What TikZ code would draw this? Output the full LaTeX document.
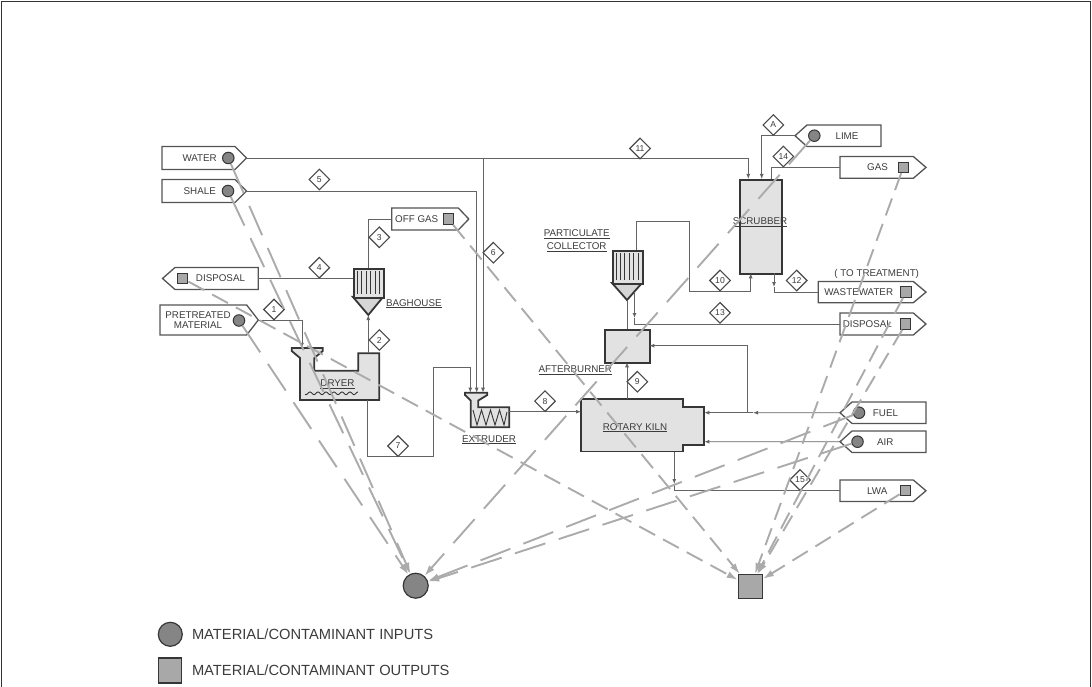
\documentclass[tikz,border=0pt]{standalone}
\usepackage{fontspec}
\setmainfont{Liberation Sans}
\usetikzlibrary{arrows.meta,calc,shapes.geometric}

\definecolor{lineC}{HTML}{646464}
\definecolor{edgeC}{HTML}{363636}
\definecolor{fillC}{HTML}{E2E2E2}
\definecolor{coneC}{HTML}{D6D6D6}
\definecolor{dashC}{HTML}{ABABAB}
\definecolor{txtC}{HTML}{3C3C3C}
\definecolor{inC}{HTML}{858585}
\definecolor{outC}{HTML}{A8A8A8}

\newcommand{\mytagR}[6]{%
  \draw[tagline] (#2,#4) -- (#3,#4) -- ({#3+#6},{(#4+#5)/2}) -- (#3,#5) -- (#2,#5) -- cycle;
  \coordinate (#1-tip) at ({#3+#6},{(#4+#5)/2});
  \coordinate (#1-in) at (#2,{(#4+#5)/2});}
\newcommand{\mytagL}[6]{%
  \draw[tagline] ({#2-#6},{(#4+#5)/2}) -- (#2,#4) -- (#3,#4) -- (#3,#5) -- (#2,#5) -- cycle;
  \coordinate (#1-tip) at ({#2-#6},{(#4+#5)/2});
  \coordinate (#1-in) at (#3,{(#4+#5)/2});}

\begin{document}
\begin{tikzpicture}[x=1pt,y=-1pt,
  pline/.style={draw=lineC, line width=0.9pt},
  parr/.style={-{Latex[length=5pt,width=4pt]}},
  equip/.style={draw=edgeC, line width=1.8pt, fill=fillC, line join=miter},
  tagline/.style={draw=edgeC!85, line width=1.3pt, fill=white, line join=miter},
  tlbl/.style={font=\fontsize{9.8}{10.5}\selectfont, text=txtC, inner sep=0pt},
  ulbl/.style={font=\fontsize{9.8}{10.5}\selectfont, text=txtC, inner sep=0pt, anchor=base},
  numd/.style={diamond, draw=edgeC!90, line width=1.1pt, fill=white, minimum width=21, minimum height=21, inner sep=0pt, font=\fontsize{8.6}{8.6}\selectfont, text=txtC},
  inmark/.style={circle, draw=edgeC, fill=inC, line width=1pt, minimum size=11.5, inner sep=0pt},
  outmark/.style={draw=edgeC, fill=outC, line width=1pt, minimum size=10.5, inner sep=0pt},
  indash/.style={draw=dashC, line width=1.9pt, dash pattern=on 32pt off 14pt, -{Latex[length=11pt,width=7pt]}},
  outdash/.style={draw=dashC, line width=1.9pt, dash pattern=on 18pt off 9pt, -{Latex[length=11pt,width=7pt]}}
]
\useasboundingbox (0,0) rectangle (1092,687);
\draw[black!80, line width=0.8pt] (1.2,687) -- (1.2,1.2) -- (1090.8,1.2) -- (1090.8,687);

% ---------- tags ----------
\mytagR{water}{162}{235}{146.5}{169.5}{11.5}
\mytagR{shale}{162}{235}{179.5}{202.5}{11.5}
\mytagR{pre}{160}{246.7}{305}{335}{11.6}
\mytagL{dispL}{175}{258.3}{267.5}{289.5}{12.5}
\mytagR{offgas}{391.7}{458.3}{208}{230}{10.5}
\mytagL{lime}{807}{881}{125}{146.5}{12}
\mytagR{gas}{840}{913.3}{156.5}{178.3}{12.7}
\mytagR{waste}{818.3}{913.3}{281.5}{302.7}{12.7}
\mytagR{dispR}{840}{913.3}{313}{335}{12.7}
\mytagL{fuel}{852}{926}{402}{423.5}{12}
\mytagL{air}{852}{926}{431}{452.5}{12}
\mytagR{lwa}{840}{913.3}{480}{501.5}{12.7}

% tag texts
\node[tlbl, anchor=east] (tWater) at (217,158) {WATER};
\node[tlbl, anchor=east] (tShale) at (216,191) {SHALE};
\node[tlbl, align=center, font=\fontsize{9.8}{10}\selectfont] (tPre) at (198,320) {PRETREATED\\MATERIAL};
\node[tlbl] (tDispL) at (220.5,278.5) {DISPOSAL};
\node[tlbl] (tOffgas) at (416.7,219) {OFF GAS};
\node[tlbl] (tLime) at (847,135.7) {LIME};
\node[tlbl] (tGas) at (877.5,167.4) {GAS};
\node[tlbl] (tTreat) at (876.7,274.3) {( TO TREATMENT)};
\node[tlbl] (tWaste) at (858.7,292.1) {WASTEWATER};
\node[tlbl] (tDispR) at (867.3,324) {DISPOSAL};
\node[tlbl] (tFuel) at (885.5,412.7) {FUEL};
\node[tlbl] (tAir) at (885.3,441.7) {AIR};
\node[tlbl] (tLwa) at (877.2,490.7) {LWA};

% ---------- equipment ----------
% baghouse
\draw[equip, fill=coneC] (352.7,296.7) -- (368.3,315) -- (383.3,296.7) -- cycle;
\node[equip, minimum width=30.6, minimum height=28.4, anchor=north west] (bag) at (352.7,268.3) {};
\foreach \i in {0,...,5} \draw[edgeC, line width=0.8pt] ({357.3+4.4*\i},271) -- ({357.3+4.4*\i},294);
% particulate collector
\draw[equip, fill=coneC] (612,283) -- (627,300) -- (642,283) -- cycle;
\node[equip, minimum width=30, minimum height=33, anchor=north west] (coll) at (612,250) {};
\foreach \i in {0,...,5} \draw[edgeC, line width=0.8pt] ({616+4.4*\i},253) -- ({616+4.4*\i},280);
% scrubber
\node[equip, minimum width=41.4, minimum height=94.3, anchor=north west] (scrub) at (739.3,179) {};
% afterburner
\node[equip, minimum width=45, minimum height=33, anchor=north west] (after) at (604.3,329.3) {};
% rotary kiln
\draw[equip] (581,399.3) -- (683.3,399.3) -- (683.3,407) -- (704.3,407) -- (704.3,445) -- (683.3,445) -- (683.3,451.5) -- (581,451.5) -- cycle;
% dryer
\draw[equip] (291.7,348) -- (322.7,348) -- (322.7,351) -- (314.3,358) -- (314.3,370.7) -- (358.3,370.7) -- (358.3,353.3) -- (379.3,353.3) -- (379.3,400) -- (300,400) -- (300,358) -- (291.7,351) -- cycle;
\draw[edgeC, line width=0.9pt] plot[domain=305:358, samples=120] (\x,{393.3+1.3*sin(\x*45)});
% extruder
\draw[equip] (465,392.7) -- (487.3,392.7) -- (487.3,395) -- (478.3,400.5) -- (478.3,407.3) -- (509.3,407.3) -- (509.3,427.3) -- (470.7,427.3) -- (470.7,400.5) -- (465,395) -- cycle;
\draw[edgeC, line width=0.9pt] (473,410) -- (477,425) -- (481.5,410) -- (486,425) -- (490.5,410) -- (495,425) -- (499.5,410) -- (504,425) -- (507,412);

% equipment labels
\node[ulbl] (lBag) at (413.8,306.2) {\underline{BAGHOUSE}};
\node[ulbl] (lDry) at (337.5,386.5) {\underline{DRYER}};
\node[ulbl] (lExt) at (489,442) {\underline{EXTRUDER}};
\node[ulbl] (lKiln) at (635,430.2) {\underline{ROTARY KILN}};
\node[ulbl] (lAb) at (575.3,372.8) {\underline{AFTERBURNER}};
\node[ulbl] (lPc1) at (576.7,236.8) {\underline{PARTICULATE}};
\node[ulbl] (lPc2) at (576.7,249.5) {\underline{COLLECTOR}};
\node[ulbl] (lScr) at (760,224.5) {\underline{SCRUBBER}};

% ---------- ports ----------
\coordinate (scrIn1) at (748.3,179);
\coordinate (scrIn2) at (761.7,179);
\coordinate (scrOutG) at (771,179);
\coordinate (scrIn3) at (750.7,273.3);
\coordinate (scrOutW) at (774,273.3);
\coordinate (wJ) at (483,158);
\coordinate (exIn1) at (470.3,392.7);
\coordinate (exIn2) at (476.7,392.7);
\coordinate (exIn3) at (483,392.7);
\coordinate (exOut) at (509.3,411.7);
\coordinate (knIn) at (581,411.7);
\coordinate (knTop) at (627,399.3);
\coordinate (knF) at (704.3,412.7);
\coordinate (knA) at (704.3,441.7);
\coordinate (knBot) at (674.3,451.5);
\coordinate (abBot) at (627,362.3);
\coordinate (abTop) at (627,329.3);
\coordinate (abR) at (649.3,345.7);
\coordinate (colTop) at (636.7,250);
\coordinate (colApex) at (627,300);
\coordinate (colOut) at (634.5,292);
\coordinate (dryIn) at (302,347.8);
\coordinate (dryTop) at (368.3,353.3);
\coordinate (dryBot) at (367.5,400);
\coordinate (bagApex) at (368.3,315);
\coordinate (bagTop) at (368.3,268.3);
\coordinate (bagL) at (352.7,278.5);
\coordinate (fJ) at (747.3,412.7);
\coordinate (fM) at (753,412.7);
\coordinate (cM) at (634.5,318);
\coordinate (wM) at (774,287);
\coordinate (lM) at (674.3,484);

% ---------- process lines ----------
\draw[pline,parr] (water-tip) -| (scrIn1);
\draw[pline,parr] (wJ) -- (exIn3);
\draw[pline,parr] (shale-tip) -| (exIn2);
\draw[pline,parr] (dryBot) -- (367.5,456.5) -- (433.3,456.5) -- (433.3,367.7) -| (exIn1);
\draw[pline,parr] (pre-tip) -| (dryIn);
\draw[pline] (bagL) -- (dispL-in);
\draw[pline] (bagTop) |- (offgas-in);
\draw[pline,parr] (dryTop) -- (bagApex);
\draw[pline,parr] (exOut) -- (knIn);
\draw[pline,parr] (knTop) -- (abBot);
\draw[pline] (abTop) -- (colApex);
\draw[pline,parr] (colTop) -- (636.7,221.5) -- (689.3,221.5) -- (689.3,291) -| (scrIn3);
\draw[pline,parr] (colOut) -- (cM);
\draw[pline] (cM) |- (dispR-in);
\draw[pline,parr] (scrOutW) -- (wM);
\draw[pline] (wM) |- (waste-in);
\draw[pline] (scrOutG) |- (gas-in);
\draw[pline,parr] (lime-tip) -| (scrIn2);
\draw[pline,parr] (fuel-tip) -- (fM);
\draw[pline,parr] (fM) -- (knF);
\draw[pline,parr] (fJ) |- (abR);
\draw[pline,parr] (air-tip) -- (knA);
\draw[pline,parr] (knBot) -- (lM);
\draw[pline] (lM) |- (lwa-in);

% ---------- stream numbers ----------
\node[numd] (d1) at (274,309.5) {1};
\node[numd] (d2) at (379.3,340) {2};
\node[numd] (d3) at (379.3,237.3) {3};
\node[numd] (d4) at (319.3,267.7) {4};
\node[numd] (d5) at (319.3,179.5) {5};
\node[numd] (d6) at (493.3,252.7) {6};
\node[numd] (d7) at (398,446) {7};
\node[numd] (d8) at (545,401.2) {8};
\node[numd] (d9) at (637.3,381.7) {9};
\node[numd] (d10) at (720,280.5) {10};
\node[numd] (d11) at (640,148.5) {11};
\node[numd] (d12) at (796.7,280.5) {12};
\node[numd] (d13) at (720,312.8) {13};
\node[numd] (d14) at (783.3,156.5) {14};
\node[numd] (d15) at (800,480) {15};
\node[numd] (dA) at (773.3,125) {A};

% ---------- markers ----------
\node[inmark] (mWater) at (228.3,158) {};
\node[inmark] (mShale) at (228,191) {};
\node[inmark] (mPre) at (239,320.5) {};
\node[inmark] (mLime) at (814.3,135.7) {};
\node[inmark] (mFuel) at (859,412.7) {};
\node[inmark] (mAir) at (857.5,441.7) {};
\node[outmark] (mOffgas) at (448.3,219) {};
\node[outmark] (mDispL) at (182.7,278.5) {};
\node[outmark] (mGas) at (903.3,167.4) {};
\node[outmark] (mWaste) at (906,292.1) {};
\node[outmark] (mDispR) at (905.7,324) {};
\node[outmark] (mLwa) at (905.3,490.7) {};

% collection points
\node[circle, draw=edgeC, fill=inC, line width=1.2pt, minimum size=25, inner sep=0pt] (bigIn) at (415.7,585.7) {};
\node[draw=edgeC, fill=outC, line width=1.2pt, minimum size=24, inner sep=0pt] (bigOut) at (750.3,586.7) {};

% ---------- contaminant paths ----------
\foreach \m in {mWater,mShale,mPre,mLime,mFuel,mAir} \draw[indash] (\m) -- (bigIn);
\foreach \m in {mOffgas,mDispL,mGas,mWaste,mDispR,mLwa} \draw[outdash] (\m) -- (bigOut);

% ---------- legend ----------
\node[circle, draw=edgeC, fill=inC, line width=1.2pt, minimum size=24, inner sep=0pt] (legIn) at (170.3,634.3) {};
\node[draw=edgeC, fill=outC, line width=1.2pt, minimum width=23, minimum height=25, inner sep=0pt] (legOut) at (170.3,670.5) {};
\node[anchor=west, inner sep=0pt, font=\fontsize{14.7}{16}\selectfont, text=txtC] (legInT) at (191.8,634.3) {MATERIAL/CONTAMINANT INPUTS};
\node[anchor=west, inner sep=0pt, font=\fontsize{14.7}{16}\selectfont, text=txtC] (legOutT) at (191.8,670.5) {MATERIAL/CONTAMINANT OUTPUTS};
\end{tikzpicture}
\end{document}
